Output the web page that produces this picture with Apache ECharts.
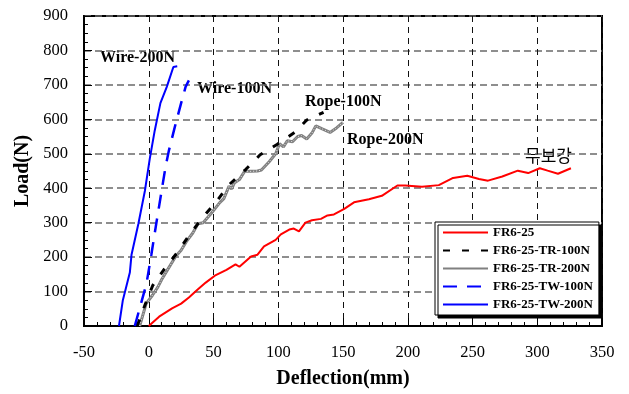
<!DOCTYPE html>
<html><head><meta charset="utf-8">
<script src="https://cdn.jsdelivr.net/npm/echarts@6/dist/echarts.min.js"></script>
<style>html,body{margin:0;padding:0;background:#fff}#c{width:629px;height:394px}</style>
</head><body><div id="c"></div>
<script>
// ---- data ----
const seriesNames = ['FR6-25','FR6-25-TR-100N','FR6-25-TR-200N','FR6-25-TW-100N','FR6-25-TW-200N'];
const xTicks = [-50,0,50,100,150,200,250,300,350];
const yTicks = [0,100,200,300,400,500,600,700,800,900];

const fr25X = [0,8,18,25,31,38,44,51,60,67,70,79,84,89,98,102,108.5,112,116,121,126,133,138,143,151,158.5,170,180,192,198,211,224,235,246,255,262,273,285,293,302,308,316,326];
const fr25Y = [0,27,51,65,83,107,126,146,163,179,172,202,207,231,250,266,280,283,275,300,307,311,321,324,340,359,368,378,408,408,404,409,430,436,427,422,434,451,444,458,451,442,458];

const tr100X = [-9,-3,3,12,22,31,41,52,62,75,86,99,113,122,135];
const tr100Y = [0,60,117,165,213,262,312,360,410,455,497,527,563,598,620];

const tr200X = [-7,-2,3,7,10,14,21,25,29,34,38,42,48,55,58,62,64,66,70,74,79,84,87,93,98,101,104,107,111,115,118,122,126,129,134,140,145,150];
const tr200Y = [0,65,90,113,135,160,203,220,245,270,297,300,326,359,370,406,398,415,425,449,449,450,453,477,500,529,520,538,535,550,553,543,560,581,572,562,575,591];

const tw100X = [-10.8,-7.4,-1.8,2,6,9.7,13,15.6,20,25,28.5,31];
const tw100Y = [0,46,122,207,302,387,463,510,576,647,695,713];

const tw200X = [-23,-20,-14.6,-13.3,-8,-3,0.8,4.6,9,14,19,22];
const tw200Y = [0,75,155,207,297,392,486,567,647,695,752,754];

const annotations = ['Wire-200N','Wire-100N','Rope-100N','Rope-200N','무보강'];

function pairs(xs, ys){ return xs.map((x,i)=>[x, ys[i]]); }

const serif = "'Times New Roman','Liberation Serif',serif";
const chart = echarts.init(document.getElementById('c'));
chart.setOption({
  animation:false,
  backgroundColor:'#fff',
  grid:{left:84,right:27,top:16,bottom:61,show:true,borderColor:'#000',borderWidth:2,backgroundColor:'transparent'},
  xAxis:{type:'value',min:-50,max:350,interval:50,
    name:'Deflection(mm)',nameLocation:'middle',nameGap:43,
    nameTextStyle:{fontFamily:serif,fontWeight:'bold',fontSize:20,color:'#000'},
    axisLine:{show:true,onZero:false,lineStyle:{color:'#000',width:2}},
    axisTick:{show:true,inside:true,length:8,lineStyle:{color:'#000',width:1}},
    minorTick:{show:true,splitNumber:5,length:4,lineStyle:{color:'#000',width:1}},
    axisLabel:{fontFamily:serif,fontSize:16.5,color:'#000',margin:18,formatter:v=>xTicks.includes(v)?String(v):''},
    splitLine:{show:true,lineStyle:{color:'#111',width:1,type:[6,5]}}},
  yAxis:{type:'value',min:0,max:900,interval:100,
    name:'Load(N)',nameLocation:'middle',nameGap:49,
    nameTextStyle:{fontFamily:serif,fontWeight:'bold',fontSize:20,color:'#000'},
    axisLine:{show:true,onZero:false,lineStyle:{color:'#000',width:2}},
    axisTick:{show:true,inside:true,length:8,lineStyle:{color:'#000',width:1}},
    minorTick:{show:true,splitNumber:4,length:4,lineStyle:{color:'#000',width:1}},
    axisLabel:{fontFamily:serif,fontSize:16.5,color:'#000',margin:16,formatter:v=>yTicks.includes(v)?String(v):''},
    splitLine:{show:true,lineStyle:{color:'#6a6a6a',width:1.6,type:[7,4]}}},
  legend:{data:seriesNames,orient:'vertical',left:435,top:222,width:158,
    padding:[4,6,4,7],itemGap:5,itemWidth:45,itemHeight:14,
    itemStyle:{opacity:0},
    backgroundColor:'#fff',borderColor:'#000',borderWidth:1,
    shadowColor:'#000',shadowBlur:0,shadowOffsetX:3,shadowOffsetY:3,
    textStyle:{fontFamily:serif,fontWeight:'bold',fontSize:13,color:'#000'}},
  series:[
    {name:seriesNames[0],type:'line',symbol:'none',data:pairs(fr25X,fr25Y),z:3,
      lineStyle:{color:'#ff0000',width:2},itemStyle:{color:'#ff0000'}},
    {name:seriesNames[2],type:'line',symbol:'none',data:pairs(tr200X,tr200Y),z:4,
      lineStyle:{color:'#808080',width:3},itemStyle:{color:'#808080'}},
    {name:'tr200-texture',type:'line',symbol:'none',data:pairs(tr200X,tr200Y),z:5,silent:true,
      lineStyle:{color:'#e8e8e8',width:1,type:[1,2]},itemStyle:{color:'#e8e8e8'}},
    {name:seriesNames[1],type:'line',symbol:'none',data:pairs(tr100X,tr100Y),z:6,
      lineStyle:{color:'#000',width:3,type:[7,12]},itemStyle:{color:'#000'}},
    {name:seriesNames[3],type:'line',symbol:'none',data:pairs(tw100X,tw100Y),z:6,
      lineStyle:{color:'#0000ff',width:2.5,type:[14,10]},itemStyle:{color:'#0000ff'}},
    {name:seriesNames[4],type:'line',symbol:'none',data:pairs(tw200X,tw200Y),z:6,
      lineStyle:{color:'#0000ff',width:2},itemStyle:{color:'#0000ff'}}
  ],
  graphic:[
    {type:'text',left:100,top:50,style:{text:annotations[0],font:"bold 16px "+serif,fill:'#000'}},
    {type:'text',left:197,top:81,style:{text:annotations[1],font:"bold 16px "+serif,fill:'#000'}},
    {type:'text',left:305,top:94,style:{text:annotations[2],font:"bold 16px "+serif,fill:'#000'}},
    {type:'text',left:347,top:132,style:{text:annotations[3],font:"bold 16px "+serif,fill:'#000'}},
    {type:'text',left:525,top:147,style:{text:annotations[4],font:"17px 'Noto Sans CJK KR'",fill:'#000'}}
  ]
});
</script></body></html>
